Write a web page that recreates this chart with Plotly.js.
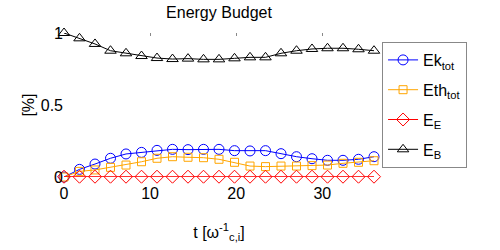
<!DOCTYPE html>
<html>
<head>
<meta charset="utf-8">
<script src="https://cdn.plot.ly/plotly-3.0.1.min.js"></script>
<style>html,body{margin:0;padding:0;background:#fff;}#chart{width:500px;height:250px;}</style>
</head>
<body>
<div id="chart"></div>
<script>
var t = [0, 1.8, 3.6, 5.4, 7.2, 9, 10.8, 12.6, 14.4, 16.2, 18, 19.8, 21.6, 23.4, 25.2, 27, 28.8, 30.6, 32.4, 34.2, 36];
var Ek = [0.0, 0.053, 0.090, 0.130, 0.160, 0.171, 0.185, 0.192, 0.190, 0.192, 0.192, 0.183, 0.181, 0.183, 0.162, 0.141, 0.127, 0.116, 0.116, 0.123, 0.141];
var Eth = [0.0, 0.039, 0.049, 0.067, 0.083, 0.106, 0.130, 0.141, 0.137, 0.134, 0.123, 0.102, 0.076, 0.072, 0.076, 0.076, 0.079, 0.083, 0.095, 0.102, 0.113];
var EE = [0.002, 0.002, 0.002, 0.002, 0.002, 0.002, 0.002, 0.002, 0.002, 0.002, 0.002, 0.002, 0.002, 0.002, 0.002, 0.002, 0.002, 0.002, 0.002, 0.002, 0.002];
var EB = [1.0, 0.963, 0.924, 0.877, 0.859, 0.840, 0.826, 0.819, 0.822, 0.817, 0.817, 0.824, 0.831, 0.831, 0.859, 0.877, 0.889, 0.894, 0.894, 0.887, 0.877];
var names = ['Ek<sub>tot</sub>', 'Eth<sub>tot</sub>', 'E<sub>E</sub>', 'E<sub>B</sub>'];
var xTicks = [0, 10, 20, 30];
var yTicks = [0, 0.5, 1];
var yTickText = ['0', '0.5', '1'];

function tr(y, name, color, symbol, size, g) {
  return {x: t, y: y, name: name, type: 'scatter', mode: 'lines+markers', cliponaxis: false, legendgroup: g,
    line: {color: color, width: 1},
    marker: {symbol: symbol, size: size, color: color, line: {color: color, width: 1}}};
}
var data = [
  tr(Ek, names[0], '#0000ff', 'circle-open', 10, 'a'),
  tr(Eth, names[1], '#ffa500', 'square-open', 8, 'b'),
  tr(EE, names[2], '#ff0000', 'diamond-open', 10, 'c'),
  tr(EB, names[3], '#000000', 'triangle-up-open', 10, 'd')
];
var font = {family: 'Liberation Sans, Arial, sans-serif', size: 16, color: '#000'};
var layout = {
  width: 500, height: 250,
  margin: {l: 64, r: 126, t: 33, b: 73},
  paper_bgcolor: '#fff', plot_bgcolor: '#fff',
  font: font,
  title: {text: 'Energy Budget', x: 0.438, xanchor: 'center', y: 0.95, yanchor: 'middle', font: {family: font.family, size: 16, color: '#000'}},
  xaxis: {range: [0, 36], tickvals: xTicks, ticktext: xTicks.map(String), showgrid: false, zeroline: false, showline: false, ticks: '', tickfont: {size: 16}, ticklabelstandoff: 5,
    title: {text: 't [ω<sup>-1</sup><sub>c,i</sub>]', font: {size: 16}, standoff: 25}},
  xaxis2: {range: [0, 36], overlaying: 'x', side: 'top', tickvals: [10, 20, 30], showticklabels: false, ticks: 'inside', ticklen: 3, tickcolor: '#888', showgrid: false, zeroline: false, showline: false},
  yaxis: {range: [0, 1], tickvals: yTicks, ticktext: yTickText, showgrid: false, zeroline: false, showline: false, ticks: '', tickfont: {size: 16}, ticklabelstandoff: 0,
    title: {text: '[%]', font: {size: 16}, standoff: 2}},
  legend: {x: 1.026, xanchor: 'left', y: 0.9375, yanchor: 'top', bgcolor: '#fff', bordercolor: '#888', borderwidth: 1, font: {size: 16}, tracegroupgap: 6, itemwidth: 30, entrywidth: 34, entrywidthmode: 'pixels'},
  showlegend: true
};
data.push({x: [0], y: [null], xaxis: 'x2', showlegend: false, hoverinfo: 'skip', type: 'scatter', mode: 'markers'});
Plotly.newPlot('chart', data, layout, {staticPlot: true});
</script>
</body>
</html>
